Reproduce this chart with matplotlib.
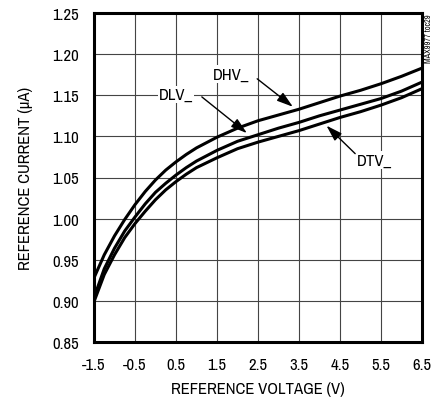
import numpy as np
import matplotlib
matplotlib.use('Agg')
import matplotlib.pyplot as plt

plt.rcParams['font.family'] = ['Archivo Narrow', 'Roboto Condensed', 'DejaVu Sans']

# reference voltage (V)
volts = [-1.5, -1.25, -1.0, -0.75, -0.5, -0.25, 0.0, 0.25, 0.5, 0.75, 1.0,
         1.5, 2.0, 2.5, 3.0, 3.5, 4.0, 4.5, 5.0, 5.5, 6.0, 6.5]
# reference current (uA) for each comparator
dhv = [0.928, 0.956, 0.979, 0.999, 1.017, 1.033, 1.047, 1.059, 1.069, 1.078,
       1.086, 1.099, 1.110, 1.119, 1.126, 1.133, 1.141, 1.149, 1.156, 1.164,
       1.173, 1.183]
dlv = [0.904, 0.939, 0.964, 0.985, 1.002, 1.018, 1.032, 1.043, 1.053, 1.062,
       1.070, 1.083, 1.094, 1.102, 1.110, 1.117, 1.125, 1.132, 1.139, 1.146,
       1.155, 1.166]
dtv = [0.899, 0.932, 0.956, 0.977, 0.994, 1.009, 1.023, 1.035, 1.045, 1.054,
       1.062, 1.074, 1.085, 1.093, 1.100, 1.107, 1.115, 1.123, 1.130, 1.138,
       1.147, 1.158]

xticks = [-1.5, -0.5, 0.5, 1.5, 2.5, 3.5, 4.5, 5.5, 6.5]
yticks = [0.85, 0.90, 0.95, 1.00, 1.05, 1.10, 1.15, 1.20, 1.25]

fig = plt.figure(figsize=(4.34, 4.02), dpi=100)
ax = fig.add_axes([94/434, 59/402, 328/434, 329/402])

for s in (dhv, dlv, dtv):
    ax.plot(volts, s, color='black', lw=2.2, solid_joinstyle='round', zorder=3)

ax.set_xlim(-1.5, 6.5)
ax.set_ylim(0.85, 1.25)
ax.set_xticks(xticks)
ax.set_xticklabels(['%g' % v for v in xticks])
ax.set_yticks(yticks)
ax.set_yticklabels(['%.2f' % v for v in yticks])
ax.tick_params(length=0, labelsize=12, pad=11)
ax.grid(True, color='#444444', lw=0.8)
ax.set_axisbelow(True)
for sp in ax.spines.values():
    sp.set_linewidth(2.2)

ax.set_xlabel('REFERENCE VOLTAGE (V)', fontsize=12, labelpad=6)
ax.set_ylabel('REFERENCE CURRENT (\u03bcA)', fontsize=12, labelpad=14)

box = dict(facecolor='white', edgecolor='none', pad=1)
arrow = dict(arrowstyle='-|>,head_length=0.7,head_width=0.22', color='black',
             lw=1.0, mutation_scale=14, shrinkA=0, shrinkB=0)
ax.text(1.84, 1.176, 'DHV_', fontsize=12, ha='center', va='center',
        bbox=box, zorder=4)
ax.annotate('', xy=(3.35, 1.136), xytext=(2.48, 1.170), arrowprops=arrow, zorder=4)
ax.text(0.5, 1.151, 'DLV_', fontsize=12, ha='center', va='center',
        bbox=box, zorder=4)
ax.annotate('', xy=(2.23, 1.104), xytext=(1.13, 1.148), arrowprops=arrow, zorder=4)
ax.text(5.35, 1.071, 'DTV_', fontsize=12, ha='center', va='center',
        bbox=box, zorder=4)
ax.annotate('', xy=(4.17, 1.113), xytext=(4.87, 1.079), arrowprops=arrow, zorder=4)

fig.text(0.987, 0.965, 'MAX9977 toc29', rotation=90, fontsize=6,
         ha='center', va='top')

fig.savefig('out.png', dpi=100)
